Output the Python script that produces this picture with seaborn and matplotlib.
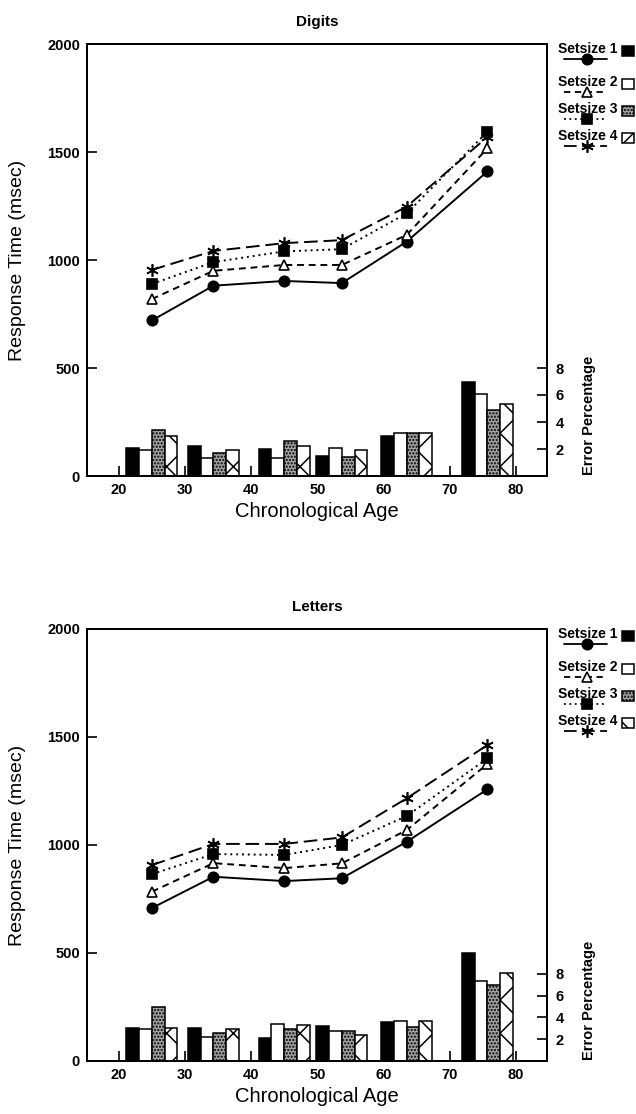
import numpy as np
import matplotlib
matplotlib.use('Agg')
import matplotlib.pyplot as plt
import seaborn as sns
from matplotlib.patches import Rectangle

# ---------------- data ----------------
ages = [25, 34.3, 45, 53.7, 63.5, 75.7]
setsizes = ['Setsize 1', 'Setsize 2', 'Setsize 3', 'Setsize 4']
age_ticks = [20, 30, 40, 50, 60, 70, 80]
rt_ticks = [0, 500, 1000, 1500, 2000]
err_ticks = [2, 4, 6, 8]

digits_rt_1 = [720, 881, 903, 893, 1085, 1410]
digits_rt_2 = [819, 950, 977, 977, 1116, 1517]
digits_rt_3 = [889, 990, 1040, 1050, 1216, 1594]
digits_rt_4 = [954, 1042, 1078, 1092, 1247, 1570]

digits_err_1 = [2.1, 2.2, 2.0, 1.5, 3.0, 6.95]
digits_err_2 = [1.95, 1.3, 1.3, 2.1, 3.15, 6.05]
digits_err_3 = [3.4, 1.7, 2.6, 1.4, 3.15, 4.9]
digits_err_4 = [3.0, 1.95, 2.25, 1.9, 3.15, 5.35]

letters_rt_1 = [708, 853, 833, 846, 1015, 1258]
letters_rt_2 = [784, 916, 893, 915, 1069, 1375]
letters_rt_3 = [865, 958, 954, 1000, 1134, 1401]
letters_rt_4 = [907, 1005, 1005, 1035, 1216, 1463]

letters_err_1 = [3.05, 3.0, 2.1, 3.25, 3.55, 9.9]
letters_err_2 = [2.9, 2.2, 3.4, 2.8, 3.7, 7.35]
letters_err_3 = [4.95, 2.6, 2.9, 2.8, 3.1, 7.0]
letters_err_4 = [3.05, 2.95, 3.3, 2.35, 3.7, 8.1]

# ---------------- style ----------------
sns.set_style('ticks')
plt.rcParams['font.family'] = ['Liberation Sans', 'DejaVu Sans']
plt.rcParams['hatch.linewidth'] = 1.1
plt.rcParams['text.color'] = 'black'
plt.rcParams['axes.labelcolor'] = 'black'
plt.rcParams['xtick.color'] = 'black'
plt.rcParams['ytick.color'] = 'black'
plt.rcParams['axes.edgecolor'] = 'black'

W, H = 636, 1114
fig = plt.figure(figsize=(W / 100, H / 100), dpi=100)

AX_L, AX_R, AX_H = 87, 547, 432

line_styles = [
    dict(linestyle='-', marker='o', markerfacecolor='black', markersize=7.5),
    dict(linestyle=(0, (3.5, 2.5)), marker='^', markerfacecolor='white', markersize=7.5),
    dict(linestyle=(0, (1, 2)), marker='s', markerfacecolor='black', markersize=6.5),
    dict(linestyle=(0, (7, 3)), marker=(6, 2, 0), markerfacecolor='black', markersize=9),
]
bar_styles = [
    dict(facecolor='black'),
    dict(facecolor='white'),
    dict(facecolor='#a5a5a5', hatch='.....'),
    dict(facecolor='white', hatch='x'),
]

overlay = fig.add_axes([0, 0, 1, 1], zorder=10)
overlay.set_xlim(0, W)
overlay.set_ylim(H, 0)
overlay.axis('off')
overlay.patch.set_alpha(0)


def panel(top_px, title, rts, errs, err_max):
    ax = fig.add_axes([AX_L / W, 1 - (top_px + AX_H) / H, (AX_R - AX_L) / W, AX_H / H])
    ax2 = ax.twinx()
    width = 1.93
    offs = [-1.5, -0.5, 0.5, 1.5]
    for k in range(4):
        ax2.bar(np.array(ages) + offs[k] * width, errs[k], width=width,
                edgecolor='black', linewidth=1.1, **bar_styles[k])
    for k in range(4):
        sns.lineplot(x=ages, y=rts[k], ax=ax, color='black', linewidth=1.4,
                     markeredgecolor='black', markeredgewidth=1.2,
                     legend=False, **line_styles[k])
    ax.set_xlim(15.2, 84.7)
    ax.set_ylim(0, 2000)
    ax.set_xticks(age_ticks)
    ax.set_yticks(rt_ticks)
    ax2.set_ylim(0, err_max)
    ax2.set_yticks(err_ticks)
    for a in (ax, ax2):
        for s in a.spines.values():
            s.set_linewidth(1.4)
            s.set_color('black')
    ax.tick_params(direction='in', length=7, width=1.2, labelsize=10.5, pad=5, colors='black')
    ax2.tick_params(direction='in', length=7, width=1.2, labelsize=10.5, pad=6, colors='black')
    for lbl in ax.get_xticklabels() + ax.get_yticklabels() + ax2.get_yticklabels():
        lbl.set_fontweight('bold')
    ax.set_title(title, fontsize=11, fontweight='bold', pad=13, color='black')
    ax.set_xlabel('Chronological Age', fontsize=14.5, color='black')
    ax.xaxis.set_label_coords(0.5, -0.06)
    ax.set_ylabel('Response Time (msec)', fontsize=14, color='black')
    ax.yaxis.set_label_coords(-0.133, 0.5)
    ax2.set_ylabel('Error Percentage', fontsize=10.5, fontweight='bold', color='black')
    ax2.yaxis.set_label_coords(1.076, 0.14)

    # legend
    rel = [5, 38, 65, 92]
    for k in range(4):
        ty = top_px + rel[k]
        overlay.text(558, ty, setsizes[k], fontsize=10, fontweight='bold',
                     ha='left', va='center', color='black')
        st = dict(line_styles[k])
        mk = st.pop('marker')
        mfc = st.pop('markerfacecolor')
        ms = st.pop('markersize')
        overlay.plot([564, 607], [ty + 10, ty + 10], color='black', linewidth=1.3, **st)
        overlay.plot([587], [ty + 10], color='black', marker=mk, markerfacecolor=mfc,
                     markersize=ms, markeredgecolor='black', markeredgewidth=1.2,
                     linestyle='none')
        overlay.add_patch(Rectangle((622, ty - 3), 12, 10, edgecolor='black',
                                    linewidth=1.1, **bar_styles[k]))
    return ax, ax2


panel(44, 'Digits',
      [digits_rt_1, digits_rt_2, digits_rt_3, digits_rt_4],
      [digits_err_1, digits_err_2, digits_err_3, digits_err_4], 32.0)
panel(629, 'Letters',
      [letters_rt_1, letters_rt_2, letters_rt_3, letters_rt_4],
      [letters_err_1, letters_err_2, letters_err_3, letters_err_4], 39.7)

fig.savefig('out.png', dpi=100)
